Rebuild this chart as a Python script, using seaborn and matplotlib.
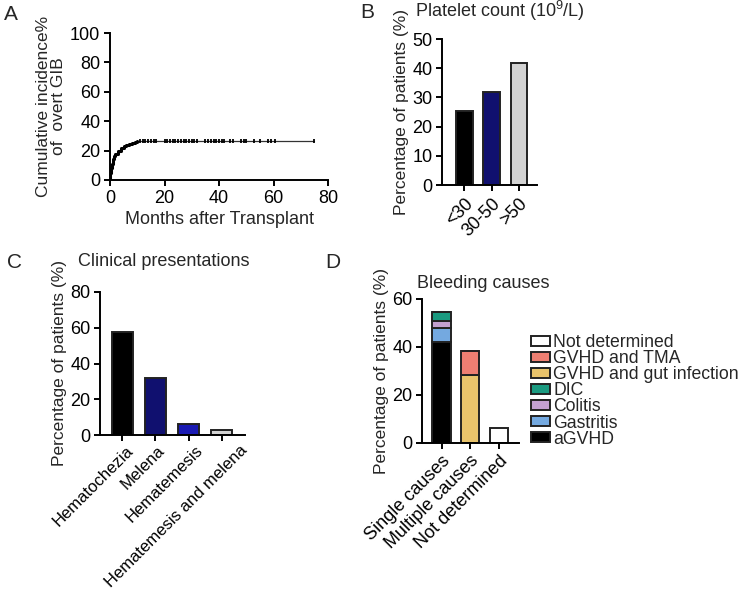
import numpy as np
import pandas as pd
import seaborn as sns
import matplotlib.pyplot as plt
from matplotlib.patches import Patch
from matplotlib.transforms import ScaledTranslation

# Panel A: cumulative incidence of overt GIB
event_months = [0, 0.1, 0.3, 0.6, 1.0, 1.5, 2.0, 3.0, 4.0, 5.0, 6.0, 7.0, 8.0, 9.0, 10.0, 75.0]
incidence = [0, 5, 8, 11, 14, 16.5, 18, 20, 21.5, 22.8, 23.8, 24.6, 25.3, 26.0, 26.5, 26.5]
censor_months = [11, 12, 13, 14, 15, 16, 17, 20, 21, 22, 23, 24, 25, 26, 27, 28, 29, 30, 31, 32,
                 35, 36, 37, 38, 39, 40, 41, 42, 44, 45, 48, 49, 50, 53, 55, 58, 59, 60.5, 75]

# Panel B: platelet count
platelet_groups = ['<30', '30-50', '>50']
platelet_pct = [25.5, 32.0, 41.7]
platelet_colors = ['#000000', '#00007f', '#d3d3d3']

# Panel C: clinical presentations
presentations = ['Hematochezia', 'Melena', 'Hematemesis', 'Hematemesis and melena']
presentation_pct = [57.7, 32.0, 6.0, 2.8]
presentation_colors = ['#000000', '#00007f', '#0000cd', '#d3d3d3']

# Panel D: bleeding causes (stacked)
cause_groups = ['Single causes', 'Multiple causes', 'Not determined']
cause_names = ['aGVHD', 'Gastritis', 'Colitis', 'DIC', 'GVHD and gut infection', 'GVHD and TMA', 'Not determined']
cause_colors = ['#000000', '#74a9e0', '#c3a0d0', '#1a9a80', '#e8c36b', '#ee7f72', '#ffffff']
cause_values = {
    'aGVHD':                  [41.8, 0, 0],
    'Gastritis':              [5.9, 0, 0],
    'Colitis':                [3.0, 0, 0],
    'DIC':                    [3.6, 0, 0],
    'GVHD and gut infection': [0, 28.3, 0],
    'GVHD and TMA':           [0, 9.9, 0],
    'Not determined':         [0, 0, 6.3],
}

sns.set_style('ticks')
plt.rcParams['font.family'] = ['Liberation Sans', 'DejaVu Sans']
plt.rcParams['mathtext.fontset'] = 'custom'
plt.rcParams['mathtext.rm'] = 'Liberation Sans'
plt.rcParams['mathtext.it'] = 'Liberation Sans'
plt.rcParams['font.size'] = 13
plt.rcParams['axes.linewidth'] = 1.4
plt.rcParams['xtick.major.width'] = 1.4
plt.rcParams['ytick.major.width'] = 1.4
plt.rcParams['xtick.major.size'] = 4.5
plt.rcParams['ytick.major.size'] = 4.5
plt.rcParams['xtick.major.pad'] = 2.5
plt.rcParams['ytick.major.pad'] = 2.5
plt.rcParams['xtick.labelsize'] = 13
plt.rcParams['ytick.labelsize'] = 13

W, H = 744, 595
fig = plt.figure(figsize=(W / 100, H / 100), dpi=100)


def px_axes(left, right, top, bottom):
    return fig.add_axes([left / W, 1 - bottom / H, (right - left) / W, (bottom - top) / H])


def px_text(x, y, s, **kw):
    fig.text(x / W, 1 - y / H, s, va='center', **kw)


def style(ax):
    sns.despine(ax=ax)
    ax.tick_params(colors='black', labelcolor='black')
    for sp in ax.spines.values():
        sp.set_color('black')


# ---- A ----
axA = px_axes(110, 328, 33, 180)
curve = pd.DataFrame({'month': event_months, 'inc': incidence})
sns.lineplot(data=curve, x='month', y='inc', drawstyle='steps-post', color='#333333', lw=0.9, ax=axA)
axA.plot(event_months[:15], incidence[:15], color='black', lw=2.2, drawstyle='steps-post')
axA.plot(censor_months, [26.5] * len(censor_months), ls='none', marker='|', ms=3, mew=1.3, color='black')
axA.set_xlim(0, 80)
axA.set_ylim(0, 100)
axA.set_xticks(range(0, 81, 20))
axA.set_yticks(range(0, 101, 20))
axA.set_xlabel('Months after Transplant', fontsize=13, labelpad=3)
axA.set_ylabel('Cumulative incidence%\nof  overt GIB', fontsize=12.5, labelpad=3, linespacing=1.0)
style(axA)

# ---- B ----
axB = px_axes(442, 537, 39, 185)
dfB = pd.DataFrame({'group': platelet_groups, 'pct': platelet_pct})
sns.barplot(data=dfB, x='group', y='pct', hue='group', palette=platelet_colors, legend=False,
            width=0.62, edgecolor='#222222', linewidth=1.4, ax=axB)
axB.set_xlim(-0.82, 2.66)
axB.set_ylim(0, 50)
axB.set_yticks(range(0, 51, 10))
axB.set_xlabel('')
axB.set_ylabel('Percentage of patients (%)', fontsize=12.5, labelpad=2)
axB.set_xticks(range(3))
axB.set_xticklabels(platelet_groups, rotation=45, ha='right', rotation_mode='anchor')
style(axB)

# ---- C ----
axC = px_axes(100, 245, 292, 435)
dfC = pd.DataFrame({'presentation': presentations, 'pct': presentation_pct})
sns.barplot(data=dfC, x='presentation', y='pct', hue='presentation', palette=presentation_colors,
            legend=False, width=0.64, edgecolor='#222222', linewidth=1.4, ax=axC)
axC.set_xlim(-0.68, 3.71)
axC.set_ylim(0, 80)
axC.set_yticks(range(0, 81, 20))
axC.set_xlabel('')
axC.set_ylabel('Percentage of patients (%)', fontsize=12.5, labelpad=2)
axC.set_xticks(range(4))
axC.set_xticklabels(presentations, rotation=45, ha='right', rotation_mode='anchor', fontsize=12)
axC.tick_params(axis='x', pad=1)
# the reference nudges the longer labels to the right of their ticks
for lab, dx in zip(axC.get_xticklabels(), [3, 1.5, 7, 18]):
    lab.set_transform(lab.get_transform() + ScaledTranslation(dx / 100, 0, fig.dpi_scale_trans))
style(axC)

# ---- D ----
axD = px_axes(422, 519, 298.7, 442.7)
bottom = np.zeros(len(cause_groups))
for name, col in zip(cause_names, cause_colors):
    vals = np.array(cause_values[name])
    axD.bar(range(len(cause_groups)), vals, bottom=bottom, width=0.64, color=col,
            edgecolor='#222222', linewidth=1.4)
    bottom += vals
axD.set_xlim(-0.68, 2.7)
axD.set_ylim(0, 60)
axD.set_yticks(range(0, 61, 20))
axD.set_ylabel('Percentage of patients (%)', fontsize=12.5, labelpad=2)
axD.set_xticks(range(3))
axD.set_xticklabels(cause_groups, rotation=45, ha='right', rotation_mode='anchor')
style(axD)

handles = [Patch(facecolor=c, edgecolor='#222222', linewidth=1.4, label=n)
           for n, c in zip(cause_names, cause_colors)][::-1]
fig.legend(handles=handles, loc='upper left', bbox_to_anchor=(531 / W, 1 - 334 / H),
           frameon=False, fontsize=12.7, handlelength=1.05, handleheight=0.5,
           labelspacing=-0.05, handletextpad=0.2, borderpad=0, borderaxespad=0)

# titles and panel letters
px_text(415, 11, r'Platelet count (10$^{9}$/L)', fontsize=13)
px_text(78, 262, 'Clinical presentations', fontsize=13)
px_text(417, 283, 'Bleeding causes', fontsize=13)
for letter, x, y in [('A', 4, 15), ('B', 360, 13), ('C', 7, 262), ('D', 325, 262)]:
    px_text(x, y, letter, fontsize=15)

fig.savefig('out.png', dpi=100)
